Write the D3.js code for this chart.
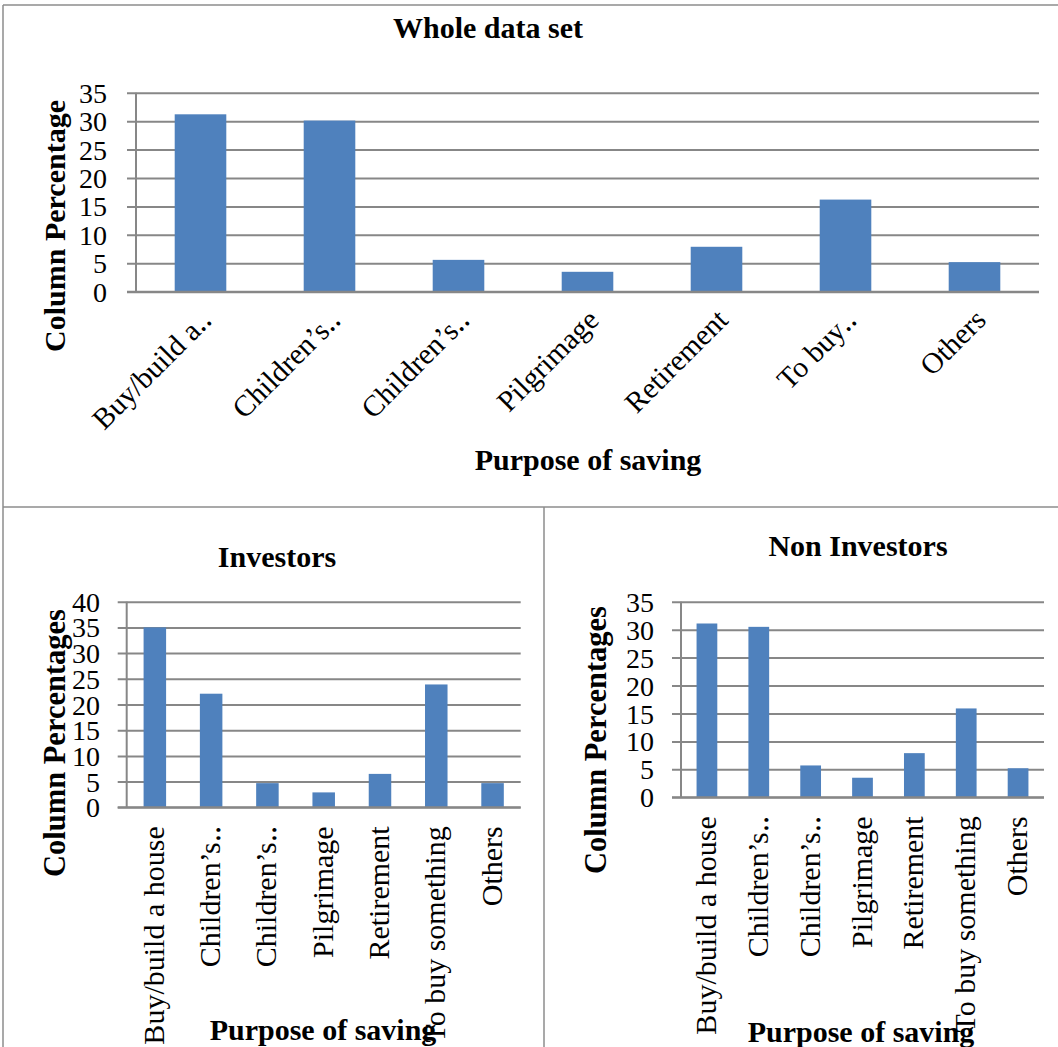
<!DOCTYPE html>
<html>
<head>
<meta charset="utf-8">
<script src="https://cdn.jsdelivr.net/npm/d3@7"></script>
<style>
  html, body { margin: 0; padding: 0; background: #fff; overflow: hidden; }
  svg { display: block; }
  svg text { font-family: "Liberation Serif", "Times New Roman", serif; fill: #000; }
</style>
</head>
<body>
<svg id="chart" width="1058" height="1047" font-family="Liberation Serif"></svg>
<script>
// Purpose of saving, column percentages
const topLabels = ["Buy/build a‥", "Children’s‥", "Children’s‥", "Pilgrimage", "Retirement", "To buy‥", "Others"];
const bottomLabels = ["Buy/build a house", "Children’s‥", "Children’s‥", "Pilgrimage", "Retirement", "To buy something", "Others"];

const wholeValues = [31.2, 30.1, 5.6, 3.5, 7.9, 16.2, 5.2];
const investorValues = [35.0, 22.1, 4.7, 2.9, 6.5, 23.9, 4.7];
const nonInvestorValues = [31.1, 30.5, 5.7, 3.5, 7.9, 15.9, 5.2];

const wholeTicks = [0, 5, 10, 15, 20, 25, 30, 35];
const investorTicks = [0, 5, 10, 15, 20, 25, 30, 35, 40];
const nonInvestorTicks = [0, 5, 10, 15, 20, 25, 30, 35];

const BAR = "#4F81BD";
const GRID = "#878787";
const FRAME = "#8c8c8c";
const SERIF = "Liberation Serif, Times New Roman, serif";

const svg = d3.select("#chart");

// panel frames
const frame = svg.append("g").attr("stroke", FRAME).attr("stroke-width", 1.5).attr("fill", "none");
frame.append("line").attr("x1", 3).attr("x2", 1058).attr("y1", 5).attr("y2", 5);
frame.append("line").attr("x1", 3).attr("x2", 3).attr("y1", 5).attr("y2", 1047);
frame.append("line").attr("x1", 3).attr("x2", 1058).attr("y1", 507).attr("y2", 507);
frame.append("line").attr("x1", 544).attr("x2", 544).attr("y1", 507).attr("y2", 1047);

function drawPanel(cfg) {
  const g = svg.append("g");
  const idx = d3.range(cfg.values.length);

  const x = d3.scaleBand().domain(idx).range([cfg.x0, cfg.x1])
    .paddingInner(0.6).paddingOuter(0.3);
  const y = d3.scaleLinear().domain([0, d3.max(cfg.ticks)]).range([cfg.yBottom, cfg.yTop]);

  // gridlines + tick labels
  const yAxis = d3.axisLeft(y).tickValues(cfg.ticks)
    .tickSizeInner(-(cfg.x1 - cfg.x0)).tickSizeOuter(0).tickPadding(0)
    .tickFormat(d3.format("d"));
  const ya = g.append("g").attr("transform", `translate(${cfg.x0},0)`).call(yAxis)
    .attr("font-family", SERIF).attr("font-size", cfg.tickSize);
  ya.select(".domain").remove();
  ya.selectAll(".tick line")
    .attr("x1", -9).attr("stroke", GRID).attr("stroke-width", 2);
  ya.selectAll(".tick text")
    .attr("x", cfg.tickRight - cfg.x0)
    .attr("dy", "0.34em")
    .attr("text-anchor", "end");

  // vertical axis line
  g.append("line")
    .attr("x1", cfg.x0).attr("x2", cfg.x0)
    .attr("y1", y(d3.max(cfg.ticks))).attr("y2", y(0))
    .attr("stroke", GRID).attr("stroke-width", 2);

  // bars
  g.append("g").selectAll("rect").data(cfg.values).join("rect")
    .attr("x", (d, i) => x(i))
    .attr("width", x.bandwidth())
    .attr("y", d => y(d))
    .attr("height", d => y(0) - y(d))
    .attr("fill", BAR);

  // baseline over the bars' foot
  g.append("line")
    .attr("x1", cfg.x0 - 9).attr("x2", cfg.x1)
    .attr("y1", y(0)).attr("y2", y(0))
    .attr("stroke", GRID).attr("stroke-width", 2);

  // category labels
  const xAxis = d3.axisBottom(x).tickSize(0).tickFormat(i => cfg.labels[i]);
  const xa = g.append("g").attr("transform", `translate(0,${cfg.yBottom})`).call(xAxis)
    .attr("font-family", SERIF).attr("font-size", cfg.catSize);
  xa.select(".domain").remove();
  xa.selectAll(".tick text")
    .attr("y", null).attr("dy", null)
    .attr("text-anchor", "end")
    .attr("transform", `translate(${cfg.catDx},${cfg.catDy}) rotate(${cfg.catRotate})`);

  // chart title
  g.append("text")
    .attr("x", cfg.titleX).attr("y", cfg.titleY)
    .attr("text-anchor", "middle")
    .attr("font-family", SERIF)
    .style("font-size", "30px").style("font-weight", "bold")
    .text(cfg.title);

  // axis titles
  g.append("text")
    .attr("transform", `translate(${cfg.yTitleX},${cfg.yTitleY}) rotate(-90)`)
    .attr("text-anchor", "middle")
    .attr("font-family", SERIF)
    .style("font-size", cfg.yTitleSize + "px").style("font-weight", "bold")
    .text(cfg.yTitle);

  g.append("text")
    .attr("x", cfg.xTitleX).attr("y", cfg.xTitleY)
    .attr("text-anchor", "middle")
    .attr("font-family", SERIF)
    .style("font-size", "30px").style("font-weight", "bold")
    .text("Purpose of saving");
}

drawPanel({
  values: wholeValues, labels: topLabels, ticks: wholeTicks,
  x0: 136, x1: 1039, yBottom: 291.7, yTop: 92.7,
  tickRight: 107, tickSize: 28,
  catSize: 29.5, catRotate: -45, catDx: 13, catDy: 30,
  title: "Whole data set", titleX: 488, titleY: 38,
  yTitle: "Column Percentage", yTitleSize: 30, yTitleX: 65, yTitleY: 226,
  xTitleX: 588, xTitleY: 470
});

drawPanel({
  values: investorValues, labels: bottomLabels, ticks: investorTicks,
  x0: 126.7, x1: 520.7, yBottom: 807.3, yTop: 601.7,
  tickRight: 100, tickSize: 28,
  catSize: 30, catRotate: -90, catDx: 9, catDy: 19,
  title: "Investors", titleX: 277, titleY: 567,
  yTitle: "Column Percentages", yTitleSize: 30.5, yTitleX: 65, yTitleY: 743,
  xTitleX: 323, xTitleY: 1040
});

drawPanel({
  values: nonInvestorValues, labels: bottomLabels, ticks: nonInvestorTicks,
  x0: 681, x1: 1044, yBottom: 797.3, yTop: 601.7,
  tickRight: 654, tickSize: 28,
  catSize: 30, catRotate: -90, catDx: 9, catDy: 19,
  title: "Non Investors", titleX: 858, titleY: 556,
  yTitle: "Column Percentages", yTitleSize: 30.5, yTitleX: 606, yTitleY: 740,
  xTitleX: 861, xTitleY: 1042
});
</script>
</body>
</html>
